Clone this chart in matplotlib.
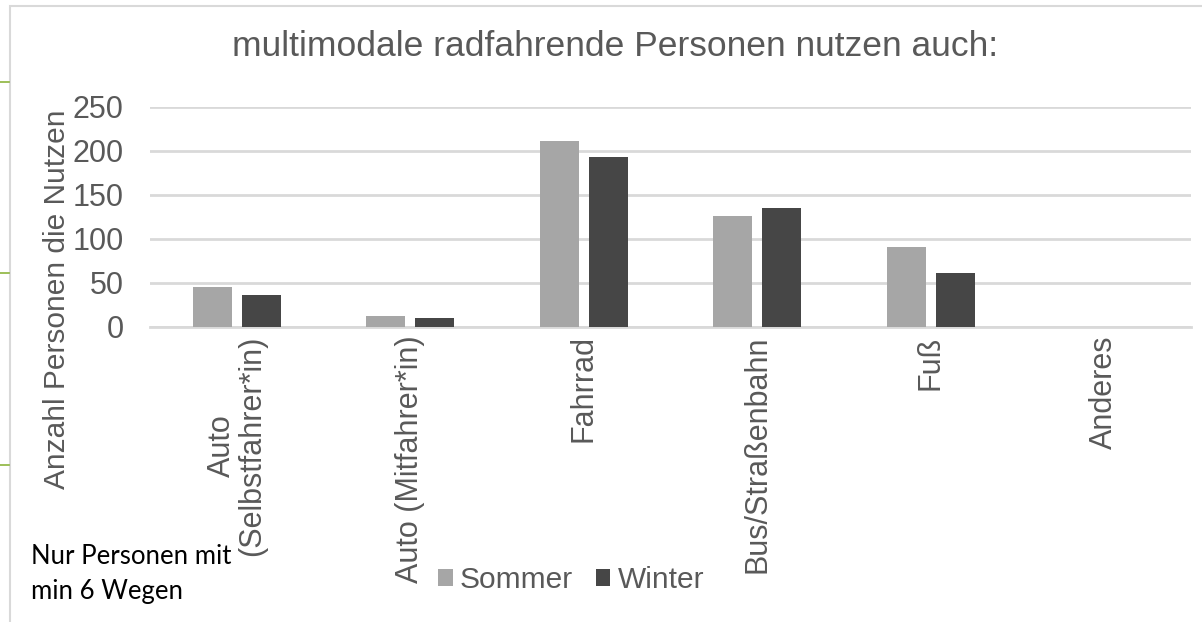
import matplotlib
matplotlib.use("Agg")
import matplotlib.pyplot as plt
import numpy as np
from matplotlib.patches import Rectangle
from matplotlib.lines import Line2D

categories = ["Auto\n(Selbstfahrer*in)", "Auto (Mitfahrer*in)", "Fahrrad",
              "Bus/Straßenbahn", "Fuß", "Anderes"]
sommer = [46, 12, 211, 126, 91, 0]
winter = [36, 10, 193, 135, 61, 0]
series_names = ["Sommer", "Winter"]

plt.rcParams['font.family'] = ['Liberation Sans', 'DejaVu Sans']
grey_txt = "#595959"
W, H = 1202, 622

fig = plt.figure(figsize=(W / 100, H / 100), dpi=100)

# chart frame and green marks at left edge
fig.patches.append(Rectangle((10 / W, -0.1), 1.2, (H - 6) / H + 0.1, transform=fig.transFigure,
                             fill=False, edgecolor="#D9D9D9", linewidth=1.5))
for yy in [82, 273, 465]:
    fig.lines.append(Line2D([0, 9 / W], [1 - yy / H, 1 - yy / H], transform=fig.transFigure,
                            color="#8CB43C", linewidth=1.2))

ax = fig.add_axes([150 / W, (H - 327) / H, (1191 - 150) / W, (327 - 107) / H])
x = np.arange(len(categories))
bw = 0.225
ax.bar(x - 0.142, sommer, bw, color="#A6A6A6", label=series_names[0], zorder=3)
ax.bar(x + 0.142, winter, bw, color="#464646", label=series_names[1], zorder=3)

ax.set_xlim(-0.5, len(categories) - 0.5)
ax.set_ylim(0, 250)
ax.set_yticks(range(0, 251, 50))
ax.grid(axis="y", color="#D9D9D9", linewidth=2, zorder=0)
for s in ["top", "right", "left"]:
    ax.spines[s].set_visible(False)
ax.spines["bottom"].set_color("#D9D9D9")
ax.spines["bottom"].set_linewidth(2)
ax.tick_params(axis="both", length=0, labelsize=22, labelcolor=grey_txt)
ax.tick_params(axis="y", pad=19)
ax.tick_params(axis="x", pad=6)
ax.set_xticks(x)
ax.set_xticklabels(categories, rotation=90, ha="center", va="top", multialignment="center",
                   linespacing=1.0)
ax.set_ylabel("Anzahl Personen die Nutzen", fontsize=21.5, color=grey_txt)
ax.yaxis.set_label_coords(-93 / 1041, 0.125)
ax.yaxis.label.set_verticalalignment("center")

fig.text(615 / W, 1 - 47 / H, "multimodale radfahrende Personen nutzen auch:",
         ha="center", va="center", fontsize=25.5, color=grey_txt)

leg = fig.legend(loc="center", bbox_to_anchor=(571 / W, 1 - 580 / H), ncol=2, frameon=False,
                 fontsize=21.5, labelcolor=grey_txt, handlelength=0.5, handleheight=0.5,
                 handletextpad=0.25, columnspacing=0.75, borderpad=0, borderaxespad=0)

fig.text(31 / W, 1 - 574 / H, "Nur Personen mit\nmin 6 Wegen", ha="left", va="center",
         fontsize=18.5, color="black", family=["Lato", "DejaVu Sans"], linespacing=1.45)

fig.savefig("out.png", dpi=100)
